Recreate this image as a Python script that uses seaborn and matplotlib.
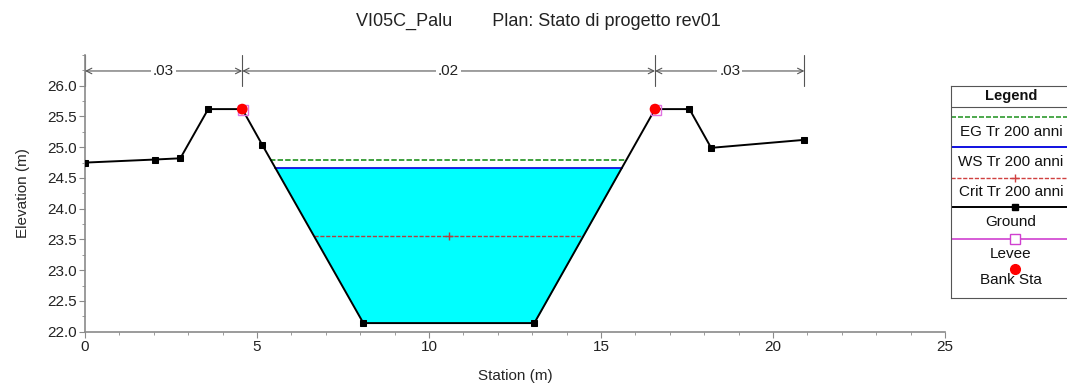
import numpy as np
import matplotlib
matplotlib.use("Agg")
import matplotlib.pyplot as plt
import seaborn as sns
import pandas as pd
from matplotlib.ticker import MultipleLocator

# ground profile
station = [0.0, 2.03, 2.77, 3.58, 4.57, 5.15, 8.09, 13.06, 16.57, 17.57, 18.2, 20.91]
elevation = [24.75, 24.80, 24.82, 25.62, 25.62, 25.04, 22.14, 22.14, 25.62, 25.62, 24.99, 25.12]

# bank stations / levees
bank_sta = [4.57, 16.57]
bank_elev = [25.62, 25.62]
levee_sta = [4.60, 16.60]
levee_elev = [25.61, 25.61]

# water levels (Tr 200 anni) and their extents
eg_level, eg_ext = 24.80, [5.39, 15.74]
ws_level, ws_ext = 24.67, [5.52, 15.60]
crit_level, crit_ext = 23.56, [6.65, 14.49]
crit_mid = 10.58

# Manning's n
n_breaks = [0.0, 4.57, 16.57, 20.91]
n_values = [".03", ".02", ".03"]

sns.set_style("white")
plt.rcParams["font.family"] = ["Liberation Sans", "DejaVu Sans"]

fig = plt.figure(figsize=(10.67, 3.87), dpi=100)
ax = fig.add_axes([0.0797, 0.1429, 0.806, 0.715])

ground = pd.DataFrame({"Station": station, "Elevation": elevation})

# water fill
st = np.array(station)
el = np.array(elevation)
chan = (st >= 5.15) & (st <= 16.57)
ax.fill_between(st[chan], el[chan], ws_level, where=el[chan] <= ws_level,
                interpolate=True, color="#00ffff", lw=0, zorder=1)

sns.lineplot(x=eg_ext, y=[eg_level, eg_level], ax=ax, color="#2f9a2f",
             lw=1.3, linestyle=(0, (3, 1.2)), zorder=3)
sns.lineplot(x=ws_ext, y=[ws_level, ws_level], ax=ax, color="#1010e0",
             lw=1.3, zorder=3)
sns.lineplot(x=crit_ext, y=[crit_level, crit_level], ax=ax, color="#b04040",
             lw=1.0, linestyle=(0, (3, 1.2)), zorder=3)
ax.plot([crit_mid], [crit_level], marker="+", color="#b04040", ms=6, zorder=3)

sns.lineplot(data=ground, x="Station", y="Elevation", ax=ax, sort=False,
             color="black", lw=1.4, marker="s", markersize=5,
             markeredgecolor="black", zorder=4)
ax.plot(levee_sta, levee_elev, ls="none", marker="s", ms=7, mfc="none",
        mec="#e070e0", zorder=5)
sns.scatterplot(x=bank_sta, y=bank_elev, ax=ax, color="red", s=60,
                edgecolor="none", zorder=6)

ax.set_xlim(0, 25)
ax.set_ylim(22, 26.5)
ax.set_yticks(np.arange(22, 26.01, 0.5))
ax.yaxis.set_minor_locator(MultipleLocator(0.25))
ax.xaxis.set_major_locator(MultipleLocator(5))
ax.xaxis.set_minor_locator(MultipleLocator(1))
ax.yaxis.set_major_formatter(plt.FormatStrFormatter("%.1f"))
for s in ["top", "right"]:
    ax.spines[s].set_visible(False)
for s in ["left", "bottom"]:
    ax.spines[s].set_color("#8a8a8a")
    ax.spines[s].set_linewidth(1.2)
ax.tick_params(axis="both", which="major", direction="out", length=4,
               color="#8a8a8a", labelsize=11, labelcolor="#222222",
               left=True, bottom=True, pad=2)
ax.tick_params(axis="both", which="minor", direction="out", length=2.5,
               color="#8a8a8a", left=True, bottom=True)
ax.set_xlabel("Station (m)", fontsize=11, labelpad=11)
ax.set_ylabel("Elevation (m)", fontsize=11, labelpad=12)

# Manning's n brackets
for b in n_breaks:
    ax.plot([b, b], [26.0, 26.5], color="#555555", lw=0.8, clip_on=False)
for i, v in enumerate(n_values):
    x0, x1 = n_breaks[i], n_breaks[i + 1]
    ax.annotate("", xy=(x0, 26.24), xytext=(x1, 26.24),
                arrowprops=dict(arrowstyle="<->", color="#555555", lw=0.8,
                                shrinkA=0, shrinkB=0), annotation_clip=False)
    ax.text((x0 + x1) / 2, 26.24, v, ha="center", va="center", fontsize=11,
            color="#222222", bbox=dict(fc="white", ec="none", pad=1.5))

fig.text(0.505, 0.944, "VI05C_Palu        Plan: Stato di progetto rev01",
         ha="center", va="center", fontsize=13, color="#222222")

# legend box
lg = fig.add_axes([951 / 1067, 1 - 298 / 387, 0.12, (298 - 86) / 387])
lg.set_xlim(0, 128)
lg.set_ylim(298, 86)
lg.set_xticks([])
lg.set_yticks([])
for s in lg.spines.values():
    s.set_color("#555555")
    s.set_linewidth(0.8)
cx = 60
lg.text(cx, 96, "Legend", ha="center", va="center", fontsize=10.5,
        fontweight="bold", color="#111111")
lg.axhline(106.5, color="#555555", lw=0.8)
entries = [
    (116.7, 131.7, "EG Tr 200 anni", dict(color="#2f9a2f", ls=(0, (3, 1.2)), lw=1.2), None),
    (146.7, 161.5, "WS Tr 200 anni", dict(color="#1010e0", lw=1.4), None),
    (178.0, 192.0, "Crit Tr 200 anni", dict(color="#d04040", ls=(0, (3, 1.2)), lw=1.0),
     dict(marker="+", color="#d04040", ms=6)),
    (207.3, 222.0, "Ground", dict(color="black", lw=1.4),
     dict(marker="s", color="black", ms=5)),
    (239.3, 253.5, "Levee", dict(color="#d040d0", lw=1.2),
     dict(marker="s", mfc="white", mec="#d040d0", ms=7)),
    (None, 280.5, "Bank Sta", None, None),
]
for ly, ty, lab, lkw, mkw in entries:
    if lkw is not None:
        lg.plot([0, 128], [ly, ly], **lkw)
    if mkw is not None:
        lg.plot([cx + 4], [ly], ls="none", **mkw)
    lg.text(cx, ty, lab, ha="center", va="center", fontsize=11, color="#111111")
lg.plot([cx + 4], [269.3], marker="o", color="red", ms=7, ls="none")

fig.savefig("out.png", dpi=100)
